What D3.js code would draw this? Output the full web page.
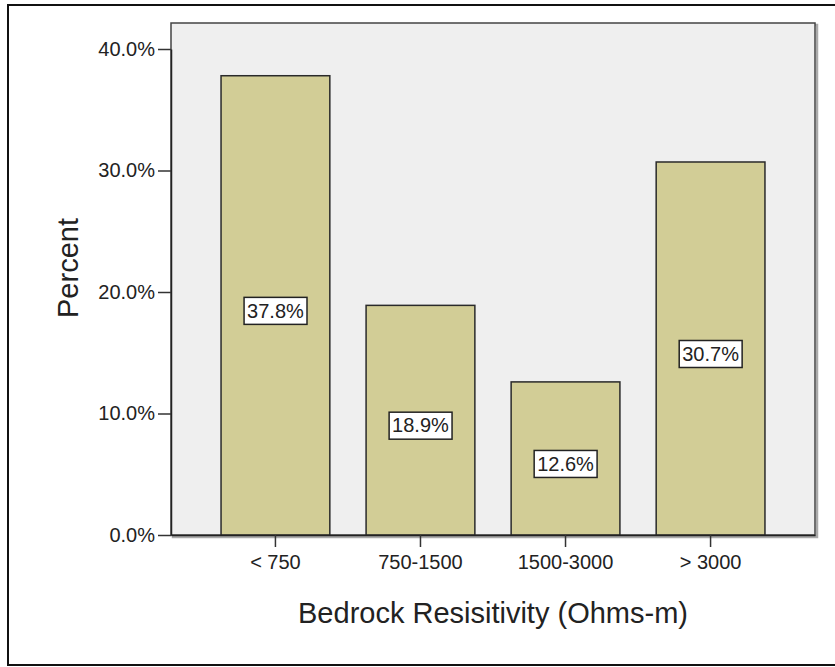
<!DOCTYPE html>
<html>
<head>
<meta charset="utf-8">
<script src="https://cdn.jsdelivr.net/npm/d3@7"></script>
<style>
  html, body { margin: 0; padding: 0; background: #ffffff; overflow: hidden; }
  svg { display: block; font-family: "Liberation Sans", Arial, sans-serif; }
</style>
</head>
<body>
<svg id="chart" width="835" height="667"></svg>
<script>
// ---- data ----
const categories = ["< 750", "750-1500", "1500-3000", "> 3000"];
const percents = [37.8, 18.9, 12.6, 30.7];
const yTicks = [0, 10, 20, 30, 40];
const xTitle = "Bedrock Resisitivity (Ohms-m)";
const yTitle = "Percent";

// ---- layout ----
const svg = d3.select("#chart");
const plot = { left: 171, right: 815, top: 23, bottom: 535 };

const x = d3.scaleBand()
  .domain(categories)
  .range([plot.left, plot.right])
  .paddingInner(0.25)
  .paddingOuter(0.345);

const y = d3.scaleLinear()
  .domain([0, 40])
  .range([plot.bottom, 49]);

// outer frame (right edge lies beyond the picture)
svg.append("rect")
  .attr("x", 8).attr("y", 5)
  .attr("width", 900).attr("height", 660)
  .attr("fill", "#ffffff")
  .attr("stroke", "#111").attr("stroke-width", 2);

// plot shadow
svg.append("rect")
  .attr("x", plot.left + 2).attr("y", plot.top + 2)
  .attr("width", plot.right - plot.left).attr("height", plot.bottom - plot.top)
  .attr("fill", "none")
  .attr("stroke", "#aaaaaa").attr("stroke-width", 2.5);

// plot background
svg.append("rect")
  .attr("x", plot.left).attr("y", plot.top)
  .attr("width", plot.right - plot.left).attr("height", plot.bottom - plot.top)
  .attr("fill", "#efefef")
  .attr("stroke", "#444").attr("stroke-width", 1.5);

// bars
svg.append("g").selectAll("rect")
  .data(categories)
  .join("rect")
  .attr("x", d => x(d))
  .attr("y", (d, i) => y(percents[i]))
  .attr("width", x.bandwidth())
  .attr("height", (d, i) => y(0) - y(percents[i]))
  .attr("fill", "#d2cd96")
  .attr("stroke", "#2a2a2a").attr("stroke-width", 1.5);

// y axis
const yAxis = svg.append("g")
  .attr("transform", `translate(${plot.left},0)`)
  .call(d3.axisLeft(y).tickValues(yTicks).tickSize(13).tickSizeOuter(0).tickPadding(3)
    .tickFormat(d => d3.format(".1f")(d) + "%"));
yAxis.select(".domain").attr("stroke", "#222").attr("stroke-width", 1.5);
yAxis.selectAll(".tick line").attr("stroke", "#333").attr("stroke-width", 1.5);
yAxis.selectAll(".tick text")
  .attr("font-size", 20).attr("fill", "#222")
  .attr("font-family", "Liberation Sans, Arial, sans-serif");

// x axis
const xAxis = svg.append("g")
  .attr("transform", `translate(0,${plot.bottom})`)
  .call(d3.axisBottom(x).tickSize(12).tickSizeOuter(0).tickPadding(8));
xAxis.select(".domain").attr("stroke", "#222").attr("stroke-width", 1.5);
xAxis.selectAll(".tick line").attr("stroke", "#333").attr("stroke-width", 1.5);
xAxis.selectAll(".tick text")
  .attr("font-size", 20).attr("fill", "#222")
  .attr("font-family", "Liberation Sans, Arial, sans-serif");

// value labels
const labels = svg.append("g").selectAll("g")
  .data(categories)
  .join("g")
  .attr("transform", (d, i) =>
    `translate(${x(d) + x.bandwidth() / 2},${y(percents[i] / 2) + 5})`);

labels.append("text")
  .attr("text-anchor", "middle")
  .attr("dy", "0.36em")
  .attr("font-size", 20)
  .attr("fill", "#222")
  .text((d, i) => d3.format(".1f")(percents[i]) + "%");

labels.each(function () {
  const g = d3.select(this);
  const bb = g.select("text").node().getBBox();
  g.insert("rect", "text")
    .attr("x", bb.x - 3).attr("y", -13)
    .attr("width", bb.width + 6).attr("height", 27)
    .attr("fill", "#ffffff")
    .attr("stroke", "#222").attr("stroke-width", 1.5);
});

// axis titles
svg.append("text")
  .attr("x", (plot.left + plot.right) / 2)
  .attr("y", 623)
  .attr("text-anchor", "middle")
  .attr("font-size", 29)
  .attr("fill", "#222")
  .text(xTitle);

svg.append("text")
  .attr("transform", `translate(78,268) rotate(-90)`)
  .attr("text-anchor", "middle")
  .attr("font-size", 29)
  .attr("fill", "#222")
  .text(yTitle);
</script>
</body>
</html>
